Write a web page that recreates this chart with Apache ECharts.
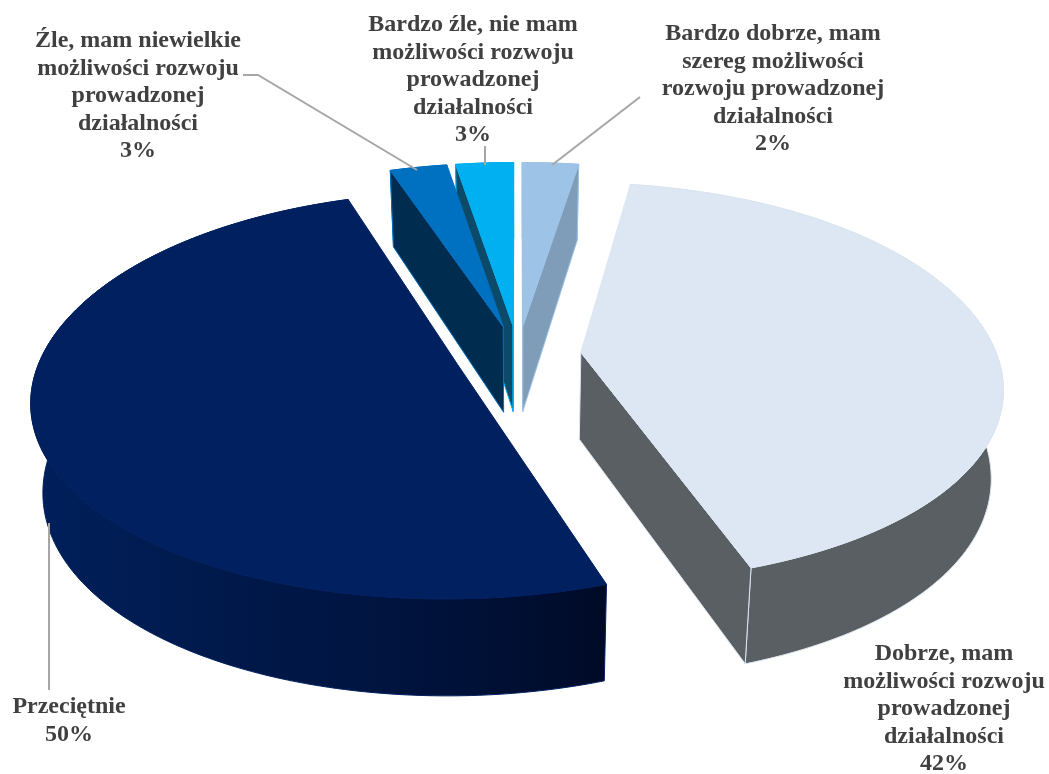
<!DOCTYPE html>
<html>
<head>
<meta charset="utf-8">
<style>html,body{margin:0;padding:0;background:#fff}#c{width:1049px;height:774px}</style>
<script src="https://cdn.jsdelivr.net/npm/echarts@6/dist/echarts.min.js"></script>
</head>
<body>
<div id="c"></div>
<script>
// Data, clockwise from 12 o'clock
const categories = [
  'Bardzo dobrze, mam\nszereg możliwości\nrozwoju prowadzonej\ndziałalności',
  'Dobrze, mam\nmożliwości rozwoju\nprowadzonej\ndziałalności',
  'Przeciętnie',
  'Źle, mam niewielkie\nmożliwości rozwoju\nprowadzonej\ndziałalności',
  'Bardzo źle, nie mam\nmożliwości rozwoju\nprowadzonej\ndziałalności'
];
const values = [2.49, 42.3, 50.1, 2.55, 2.56];

// Styles
const topColors = ['#9dc3e6', '#dce7f3', '#002060', '#0070c0', '#00b0f0'];
const wallColors = ['#7f9db9', '#5a5f63',
  {type:'linear',x:0,y:0,x2:1,y2:0,colorStops:[{offset:0,color:'#001f5c'},{offset:0.3,color:'#001a4c'},{offset:0.6,color:'#001440'},{offset:0.8,color:'#001035'},{offset:1,color:'#000a26'}]},
  '#002d4f', '#0b4a68'];
const drawOrder = [0, 3, 4, 2, 1]; // stacking rank per slice, far slices first
const labelPos = [[773,34],[944,654],[69,707],[138,41],[473,25]];
const leaders = [
  [[552,165],[640,97]],
  [[485,165],[485,146]],
  [[417,170],[258,75],[243,75]],
  [[49,523],[49,690]]
];

// Projection of the tilted disc
const P = {cx:518, cy:355, sx:416, ry:196, xa:0.16, xb:0.04, ky:0.15, explode:0.152, depth:87, depthK:0.11, bottomScale:0.975};
function project(u, v, z) {
  const x = P.cx + P.sx * u * (1 + P.xa * v + P.xb * v * v) * (z ? P.bottomScale : 1);
  const y = P.cy + P.ry * v / (1 - P.ky * v) + (z ? P.depth * (1 + P.depthK * v) : 0);
  return [x, y];
}
const total = values.reduce((a, b) => a + b, 0);

function renderSlice(params, api) {
  const i = params.dataIndex;
  const val = api.value(0);
  let start = 0;
  for (let k = 0; k < i; k++) start += values[k];
  const a0 = start / total * 2 * Math.PI;
  const a1 = (start + val) / total * 2 * Math.PI;
  const mid = (a0 + a1) / 2;
  const ox = P.explode * Math.sin(mid), oy = -P.explode * Math.cos(mid);
  const pt = (a, r, z) => project(ox + r * Math.sin(a), oy - r * Math.cos(a), z);
  const n = Math.max(2, Math.ceil((a1 - a0) / (Math.PI / 180)));
  const topArc = [], botArc = [];
  for (let k = 0; k <= n; k++) {
    const a = a0 + (a1 - a0) * k / n;
    topArc.push(pt(a, 1, 0));
    botArc.push(pt(a, 1, 1));
  }
  const ct = pt(0, 0, 0), cb = pt(0, 0, 1);
  const edge = topColors[i];
  const base = drawOrder[i] * 10;
  const poly = (points, fill, layer) => ({
    type: 'polygon', z2: base + layer,
    shape: {points},
    style: {fill, stroke: edge, lineWidth: 1, lineJoin: 'round'}
  });
  const cross = (p) => (p[0] - ct[0]) * (cb[1] - ct[1]) - (p[1] - ct[1]) * (cb[0] - ct[0]);
  const children = [poly(topArc.concat(botArc.slice().reverse()), wallColors[i], 1)];
  if (cross(topArc[0]) < 0) children.push(poly([ct, topArc[0], botArc[0], cb], wallColors[i], 2));
  if (cross(topArc[n]) > 0) children.push(poly([ct, topArc[n], botArc[n], cb], wallColors[i], 2));
  children.push(poly([ct].concat(topArc), topColors[i], 3));
  return {type: 'group', children};
}

const chart = echarts.init(document.getElementById('c'), null, {renderer: 'canvas'});
const graphics = [];
leaders.forEach(l => graphics.push({
  type: 'polyline', silent: true, z: 5,
  shape: {points: l},
  style: {stroke: '#a6a6a6', lineWidth: 2, fill: null}
}));
categories.forEach((c, i) => graphics.push({
  type: 'text', silent: true, z: 6,
  x: labelPos[i][0], y: labelPos[i][1] - 13.5,
  style: {
    text: c + '\n' + Math.round(values[i]) + '%',
    fill: '#404040',
    font: 'bold 24px "Liberation Serif"',
    lineHeight: 27.5,
    align: 'center',
    verticalAlign: 'top'
  }
}));
chart.setOption({
  animation: false,
  backgroundColor: '#ffffff',
  graphic: {elements: graphics},
  series: [{
    type: 'custom',
    coordinateSystem: 'none',
    silent: true,
    renderItem: renderSlice,
    encode: {value: 0},
    data: values.map(v => [v]),
    z: 2
  }]
});
</script>
</body>
</html>
